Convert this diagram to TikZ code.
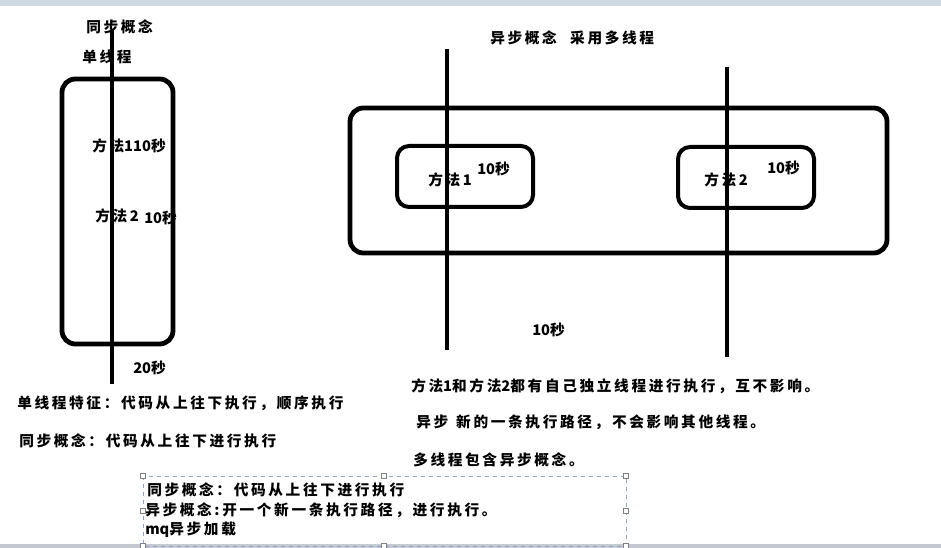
\documentclass[tikz,border=0pt]{standalone}
\usepackage{fontspec}
\newfontfamily\cjk[LetterSpace=18]{Noto Sans CJK SC}
\newfontfamily\cjkn{Noto Sans CJK SC}
\usetikzlibrary{positioning}
\definecolor{barblue}{RGB}{208,216,228}
\definecolor{bargray}{RGB}{196,200,208}
\definecolor{selblue}{RGB}{140,165,210}

\begin{document}
\begin{tikzpicture}[x=0.75pt,y=-0.75pt,
 every node/.style={font=\cjk\bfseries\fontsize{11}{13}\selectfont,anchor=west,inner sep=0pt},
 num/.style={font=\cjkn\bfseries\fontsize{11}{13}\selectfont},
 box/.style={draw,line width=3.6pt,rounded corners=10pt},
 small/.style={draw,line width=3pt,rounded corners=9pt},
 thread/.style={line width=3pt},
 sel/.style={draw=selblue,dashed,line width=0.6pt},
 handle/.style={draw=gray,fill=white,line width=0.5pt,minimum size=3.5pt,anchor=center}]
\useasboundingbox (0,0) rectangle (941,548);
\fill[white] (0,0) rectangle (941,548);
\fill[barblue] (0,0) rectangle (941,6);
\fill[bargray] (0,544) rectangle (941,548);

% left side: one thread
\node (syncT) at (86,27) {同步概念};
\node (singleT) at (82,57) {单线程};
\node (m11) at (92,146) {方法{\cjkn 110秒}};
\node (m12) at (95,216) {方法2};
\node[num] (s12) at (144,218) {10秒};
\node[num] (s20) at (133,368) {20秒};
\node (n1) at (17,403) {单线程特征：代码从上往下执行，顺序执行};
\node (n2) at (19,441) {同步概念：代码从上往下进行执行};

% right side: two threads
\node (asyncT) at (490,38) {异步概念\hspace{10pt}采用多线程};
\node (m1) at (428,180) {方法1};
\node[num] (s1) at (477,169) {10秒};
\node (m2) at (704,180) {方法2};
\node[num] (s2) at (767,168) {10秒};
\node[num] (s10) at (532,330) {10秒};
\node (r1) at (411,386) {方法{\cjkn 1}和方法{\cjkn 2}都有自己独立线程进行执行，互不影响。};
\node (r2) at (416,422) {异步\hspace{6pt}新的一条执行路径，不会影响其他线程。};
\node (r3) at (413,460) {多线程包含异步概念。};

% selected text box
\draw[sel] (143,476) rectangle (626,546);
\node (b1) at (147,490) {同步概念：代码从上往下进行执行};
\node (b2) at (145,510) {异步概念:开一个新一条执行路径，进行执行。};
\node (b3) at (145,530) {{\cjkn mq}异步加载};
\foreach \x/\y [count=\i] in {143/476,384/476,626/476,143/511,626/511,143/546,384/546,626/546}
 \node[handle] (h\i) at (\x,\y) {};

% boxes and threads
\draw[box] (62,79) rectangle (173,344);
\draw[box] (350,108) rectangle (887,253);
\draw[small] (397,146) rectangle (533,207);
\draw[small] (678,147) rectangle (814,208);
\coordinate (a0) at (112,30);
\coordinate (a1) at (112,384);
\coordinate (b0) at (447,49);
\coordinate (b1e) at (447,350);
\coordinate (c0) at (727,67);
\coordinate (c1) at (727,357);
\draw[thread] (a0)--(a1) (b0)--(b1e) (c0)--(c1);
\end{tikzpicture}
\end{document}
